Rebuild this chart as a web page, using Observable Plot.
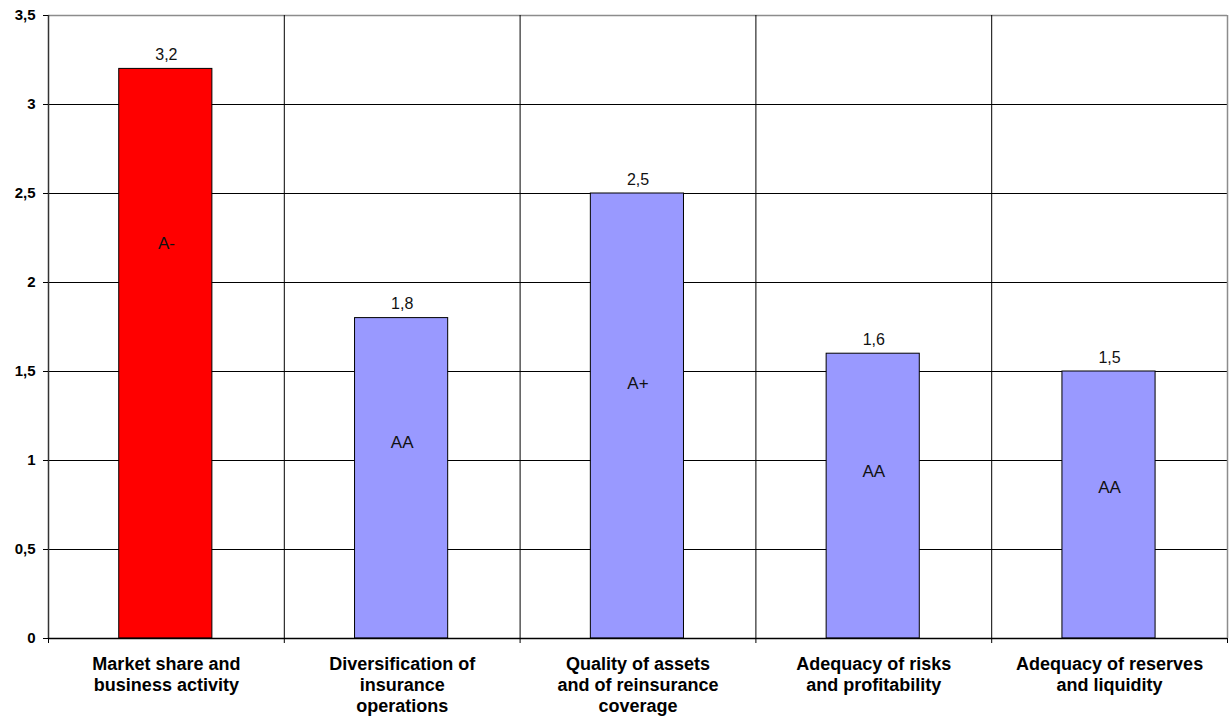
<!DOCTYPE html>
<html><head><meta charset="utf-8">
<script src="https://cdn.jsdelivr.net/npm/d3@7"></script>
<script src="https://cdn.jsdelivr.net/npm/@observablehq/plot@0.6"></script>
<style>body{margin:0;background:#fff;}</style>
</head><body><div id="chart"></div>
<script>
const categories = [
  "Market share and\nbusiness activity",
  "Diversification of\ninsurance\noperations",
  "Quality of assets\nand of reinsurance\ncoverage",
  "Adequacy of risks\nand profitability",
  "Adequacy of reserves\nand liquidity"
];
const values = [3.2, 1.8, 2.5, 1.6, 1.5];
const valueLabels = ["3,2", "1,8", "2,5", "1,6", "1,5"];
const ratings = ["A-", "AA", "A+", "AA", "AA"];
const ratingLevels = [2.22, 1.10, 1.43, 0.94, 0.85];
const barColors = ["#FF0000", "#9999FF", "#9999FF", "#9999FF", "#9999FF"];
const yTicks = [0, 0.5, 1, 1.5, 2, 2.5, 3, 3.5];
const yTickLabels = ["0", "0,5", "1", "1,5", "2", "2,5", "3", "3,5"];

const data = categories.map((c, i) => ({
  i, c, v: values[i], label: valueLabels[i], rating: ratings[i], rl: ratingLevels[i], color: barColors[i]
}));
const bounds = d3.range(categories.length + 1);

const chart = Plot.plot({
  width: 1229, height: 716,
  marginTop: 15, marginBottom: 78, marginLeft: 48, marginRight: 2,
  x: {type: "linear", domain: [0, categories.length], axis: null, label: null},
  y: {domain: [0, 3.5], axis: null, label: null},
  style: {fontFamily: "'Liberation Sans', Arial, sans-serif", background: "#fff", color: "#000"},
  marks: [
    Plot.ruleY(yTicks.filter(t => t > 0 && t < 3.5), {stroke: "#000", strokeWidth: 1}),
    Plot.ruleY([3.5], {stroke: "#8c8c8c", strokeWidth: 1.5}),
    Plot.ruleX(bounds.slice(1, -1), {y1: 0, y2: 3.5, stroke: "#000", strokeWidth: 1}),
    Plot.ruleX([bounds[bounds.length - 1]], {y1: 0, y2: 3.5, stroke: "#8c8c8c", strokeWidth: 1.5}),
    Plot.rect(data, {x1: d => d.i + 0.3, x2: d => d.i + 0.695, y1: 0, y2: "v", fill: d => d.color, stroke: "#000", strokeWidth: 1}),
    Plot.ruleX([0], {y1: 0, y2: 3.5, stroke: "#333", strokeWidth: 1.5}),
    Plot.ruleY([0], {stroke: "#000", strokeWidth: 1.5}),
    Plot.axisX({ticks: bounds, tickSize: 5, tickFormat: () => "", label: null}),
    Plot.axisY({ticks: yTicks, tickSize: 5, tickPadding: 8, label: null,
      tickFormat: d => yTickLabels[yTicks.indexOf(d)], fontWeight: "bold", fontSize: 15}),
    Plot.text(data, {x: d => d.i + 0.5, y: "v", text: "label", dy: -9, lineAnchor: "bottom", fontSize: 16, fill: "#111"}),
    Plot.text(data, {x: d => d.i + 0.5, y: "rl", text: "rating", fontSize: 17, fill: "#111"}),
    Plot.text(data, {x: d => d.i + 0.5, y: 0, text: "c", lineAnchor: "top", dy: 17, fontSize: 18, fontWeight: "bold", lineHeight: 1.15, fill: "#000"})
  ]
});
document.getElementById("chart").appendChild(chart);
</script>
</body></html>
